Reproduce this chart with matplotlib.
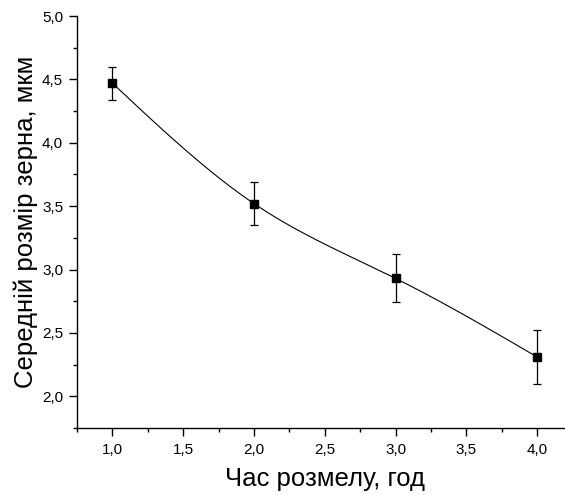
import numpy as np
import matplotlib
matplotlib.use("Agg")
import matplotlib.pyplot as plt
from matplotlib.ticker import MultipleLocator, FuncFormatter

plt.rcParams['font.family'] = ['Liberation Sans', 'DejaVu Sans']

# Milling time (h) vs mean grain size (um)
hours = [1.0, 2.0, 3.0, 4.0]
grain_size = [4.47, 3.52, 2.93, 2.31]
grain_err = [0.13, 0.17, 0.19, 0.21]

x_label = "Час розмелу, год"
y_label = "Середній розмір зерна, мкм"


def natural_spline(x, y, xs):
    x = np.asarray(x, float)
    y = np.asarray(y, float)
    n = len(x)
    h = np.diff(x)
    A = np.zeros((n, n))
    b = np.zeros(n)
    A[0, 0] = A[-1, -1] = 1.0
    for i in range(1, n - 1):
        A[i, i - 1] = h[i - 1]
        A[i, i] = 2 * (h[i - 1] + h[i])
        A[i, i + 1] = h[i]
        b[i] = 3 * ((y[i + 1] - y[i]) / h[i] - (y[i] - y[i - 1]) / h[i - 1])
    c = np.linalg.solve(A, b)
    out = np.empty_like(xs)
    for k, t in enumerate(xs):
        i = min(max(np.searchsorted(x, t) - 1, 0), n - 2)
        dx = t - x[i]
        bi = (y[i + 1] - y[i]) / h[i] - h[i] * (2 * c[i] + c[i + 1]) / 3
        di = (c[i + 1] - c[i]) / (3 * h[i])
        out[k] = y[i] + bi * dx + c[i] * dx ** 2 + di * dx ** 3
    return out


fig = plt.figure(figsize=(5.65, 4.95), dpi=100)
ax = fig.add_axes([77 / 565, 1 - 428 / 495, (572.6 - 77) / 565, (428 - 16) / 495])

xs = np.linspace(hours[0], hours[-1], 300)
ax.plot(xs, natural_spline(hours, grain_size, xs), color='black', lw=0.8, clip_on=False)
ax.errorbar(hours, grain_size, yerr=grain_err, fmt='s', color='black', ms=6,
            ecolor='black', elinewidth=0.9, capsize=3, capthick=0.9, zorder=3)

ax.set_xlim(0.75, 4.25)
ax.set_ylim(1.75, 5.0)
ax.xaxis.set_major_locator(MultipleLocator(0.5))
ax.xaxis.set_minor_locator(MultipleLocator(0.25))
ax.yaxis.set_major_locator(MultipleLocator(0.5))
ax.yaxis.set_minor_locator(MultipleLocator(0.25))
comma = FuncFormatter(lambda v, p: f"{v:.1f}".replace('.', ','))
ax.xaxis.set_major_formatter(comma)
ax.yaxis.set_major_formatter(comma)

for s in ('top', 'right'):
    ax.spines[s].set_visible(False)
for s in ('left', 'bottom'):
    ax.spines[s].set_linewidth(1.0)

ax.tick_params(which='major', direction='out', length=6, width=1.0, labelsize=11, pad=4)
ax.tick_params(which='minor', direction='out', length=3, width=1.0)
ax.tick_params(axis='x', pad=5)

ax.set_xlabel(x_label, fontsize=18.5, labelpad=7)
ax.set_ylabel(y_label, fontsize=18.5, labelpad=3)

fig.savefig("out.png", dpi=100)
